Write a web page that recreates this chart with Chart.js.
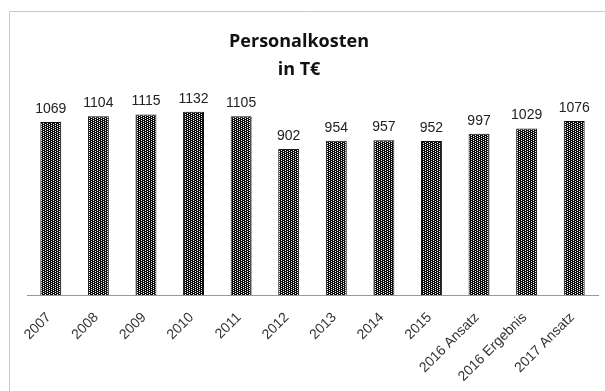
<!DOCTYPE html>
<html>
<head>
<meta charset="utf-8">
<script src="https://cdn.jsdelivr.net/npm/chart.js@4.4.1/dist/chart.umd.min.js"></script>
<style>
  html, body { margin: 0; padding: 0; background: #fff; }
  #wrap { position: relative; width: 605px; height: 391px; }
</style>
</head>
<body>
<div id="wrap"><canvas id="chart" width="605" height="391"></canvas></div>
<script>
// Daten
const categories = ["2007", "2008", "2009", "2010", "2011", "2012", "2013", "2014", "2015",
                    "2016 Ansatz", "2016 Ergebnis", "2017 Ansatz"];
const personalkosten = [1069, 1104, 1115, 1132, 1105, 902, 954, 957, 952, 997, 1029, 1076];
const titleLines = ["Personalkosten", "in T€"];

// Schraffur wie im Excel-Muster
function makePattern() {
    const p = document.createElement("canvas");
    p.width = 4;
    p.height = 4;
    const c = p.getContext("2d");
    c.fillStyle = "#0d0d0d";
    c.fillRect(0, 0, 4, 4);
    c.fillStyle = "#fff";
    c.fillRect(1, 0, 1, 1);
    c.fillRect(1, 2, 1, 1);
    c.fillRect(3, 1, 1, 1);
    c.fillRect(3, 3, 1, 1);
    return c.createPattern(p, "repeat");
}

// Rahmen links/oben
const framePlugin = {
    id: "frame",
    beforeDraw(chart) {
        const ctx = chart.ctx;
        ctx.save();
        ctx.strokeStyle = "#c8c8c8";
        ctx.lineWidth = 1;
        ctx.beginPath();
        ctx.moveTo(9.5, chart.height);
        ctx.lineTo(9.5, 11.5);
        ctx.lineTo(chart.width, 11.5);
        ctx.stroke();
        ctx.restore();
    }
};

// Werte ueber den Balken
const valueLabels = {
    id: "valueLabels",
    afterDatasetsDraw(chart) {
        const ctx = chart.ctx;
        const meta = chart.getDatasetMeta(0);
        ctx.save();
        ctx.font = "14px 'Liberation Sans', Arial, sans-serif";
        ctx.fillStyle = "#222";
        ctx.textAlign = "center";
        ctx.textBaseline = "bottom";
        meta.data.forEach((bar, i) => {
            ctx.fillText(personalkosten[i], bar.x, bar.y - 6);
        });
        ctx.restore();
    }
};

new Chart(document.getElementById("chart"), {
    type: "bar",
    data: {
        labels: categories,
        datasets: [{
            data: personalkosten,
            backgroundColor: makePattern(),
            borderColor: "#111",
            borderWidth: 1,
            barPercentage: 0.44,
            categoryPercentage: 1
        }]
    },
    options: {
        responsive: false,
        animation: false,
        layout: { padding: { left: 0, right: 7, top: 28, bottom: 0 } },
        plugins: {
            legend: { display: false },
            tooltip: { enabled: false },
            title: {
                display: true,
                text: titleLines,
                color: "#111",
                font: { family: "'Open Sans', sans-serif", size: 18, weight: "bold", lineHeight: 1.55 },
                padding: { top: 0, bottom: 17 }
            }
        },
        scales: {
            x: {
                grid: { display: false },
                border: { display: true, color: "#999", width: 1 },
                ticks: {
                    autoSkip: false,
                    maxRotation: 45,
                    minRotation: 45,
                    color: "#333",
                    padding: 6,
                    labelOffset: -2,
                    font: { family: "'Liberation Sans', Arial, sans-serif", size: 14 }
                }
            },
            y: {
                min: 0,
                max: 1200,
                grid: { display: false },
                border: { display: false },
                ticks: { display: false },
                afterFit(scale) { scale.width = 27; }
            }
        }
    },
    plugins: [framePlugin, valueLabels]
});
</script>
</body>
</html>
